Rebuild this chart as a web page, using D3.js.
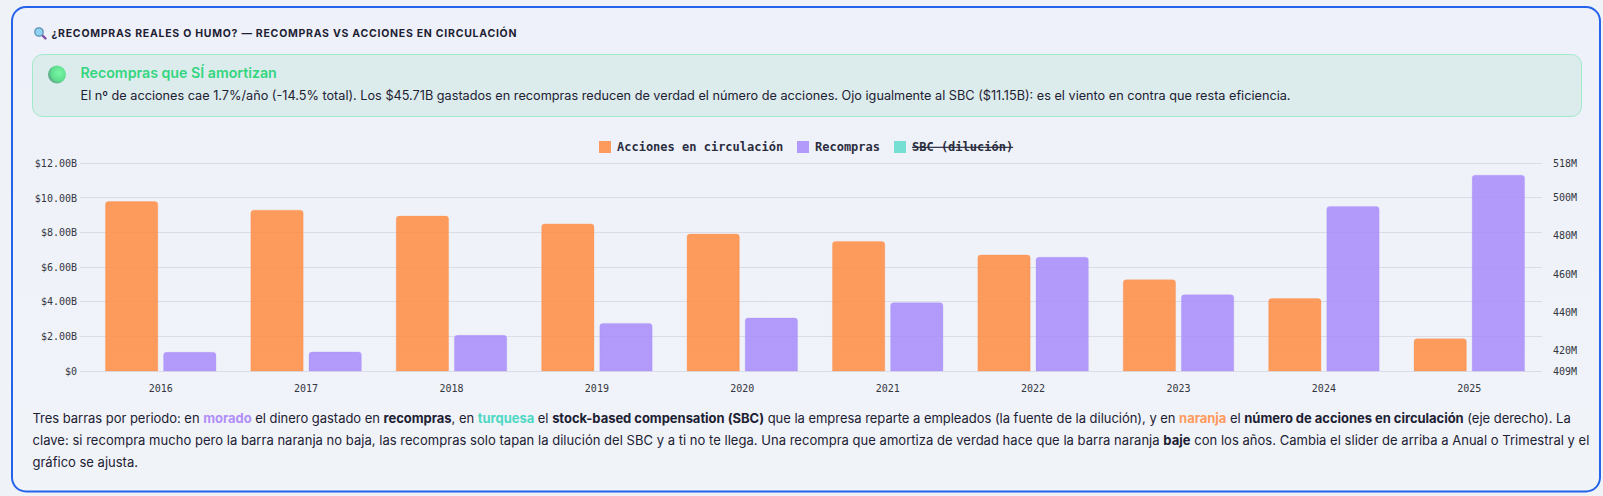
<!DOCTYPE html>
<html>
<head>
<meta charset="utf-8">
<script src="https://cdn.jsdelivr.net/npm/d3@7"></script>
<style>
  html, body { margin: 0; padding: 0; background: #eff2f7; overflow: hidden; }
  svg { display: block; }
  text { font-family: Inter, "Noto Sans", sans-serif; }
  .mono, .mono text { font-family: "DejaVu Sans Mono", monospace; }
  .axis text { font-size: 10px; fill: #33363f; font-family: "DejaVu Sans Mono", monospace; }
  .axis path, .axis line { display: none; }
</style>
</head>
<body>
<div id="chart"></div>
<script>
const w = 1603,
      h = 496;

const years = ['2016', '2017', '2018', '2019', '2020', '2021', '2022', '2023', '2024', '2025'];
// millones de acciones, eje derecho
const shares = [497.9, 493.4, 490.3, 486.2, 480.9, 477.0, 469.9, 456.9, 447.0, 425.9];
// miles de millones de dolares, eje izquierdo
const buybacks = [1.08, 1.10, 2.06, 2.75, 3.06, 3.95, 6.57, 4.41, 9.51, 11.31];

const leftTicks = [0, 2, 4, 6, 8, 10, 12];
const rightTicks = [409, 420, 440, 460, 480, 500, 518];

const orange = '#ff8c42',
      purple = '#a78bfa',
      teal = '#5fdccd',
      ink = '#1d2133';

const legendItems = [
  { label: 'Acciones en circulación', color: orange, x: 599, hidden: false },
  { label: 'Recompras', color: purple, x: 797, hidden: false },
  { label: 'SBC (dilución)', color: teal, x: 894, hidden: true }
];

const noteLines = [
  [['Tres barras por periodo: en '], ['morado', 'b', '#b08ff9'], [' el dinero gastado en '], ['recompras', 'b'], [', en '], ['turquesa', 'b', '#4fd8c4'], [' el '], ['stock-based compensation (SBC)', 'b'], [' que la empresa reparte a empleados (la fuente de la dilución), y en '], ['naranja', 'b', '#ff9a5c'], [' el '], ['número de acciones en circulación', 'b'], [' (eje derecho). La']],
  [['clave: si recompra mucho pero la barra naranja no baja, las recompras solo tapan la dilución del SBC y a ti no te llega. Una recompra que amortiza de verdad hace que la barra naranja '], ['baje', 'b'], [' con los años. Cambia el slider de arriba a Anual o Trimestral y el']],
  [['gráfico se ajusta.']]
];
const noteSpacing = [-0.033, 0.028, 0];

const svg = d3.select('#chart')
  .append('svg')
  .attr('width', w)
  .attr('height', h);

const defs = svg.append('defs');

const cardGrad = defs.append('linearGradient')
  .attr('id', 'cardGrad')
  .attr('x1', 0).attr('y1', 0).attr('x2', 0).attr('y2', 1);
cardGrad.append('stop').attr('offset', '0%').attr('stop-color', '#eff1fa');
cardGrad.append('stop').attr('offset', '100%').attr('stop-color', '#f0f3f8');

const ballGrad = defs.append('radialGradient')
  .attr('id', 'ballGrad')
  .attr('cx', '62%').attr('cy', '42%').attr('r', '65%');
ballGrad.append('stop').attr('offset', '0%').attr('stop-color', '#79f5a6');
ballGrad.append('stop').attr('offset', '65%').attr('stop-color', '#5fe08f');
ballGrad.append('stop').attr('offset', '100%').attr('stop-color', '#5d9a86');

// card
svg.append('rect')
  .attr('x', 12).attr('y', 7)
  .attr('width', 1588).attr('height', 484.5)
  .attr('rx', 14)
  .attr('fill', 'url(#cardGrad)')
  .attr('stroke', '#2563eb')
  .attr('stroke-width', 2);

// magnifier icon
const icon = svg.append('g').attr('transform', 'translate(39, 32)');
icon.append('line')
  .attr('x1', 3).attr('y1', 3).attr('x2', 6.5).attr('y2', 6.5)
  .attr('stroke', '#7a4fa3').attr('stroke-width', 2.4).attr('stroke-linecap', 'round');
icon.append('circle')
  .attr('r', 4.2)
  .attr('fill', '#8fd3f0').attr('stroke', '#5b8fb5').attr('stroke-width', 1.3);

svg.append('text')
  .attr('x', 51.5).attr('y', 37)
  .attr('font-size', 10.5)
  .attr('font-weight', 700)
  .attr('letter-spacing', 0.74)
  .attr('fill', ink)
  .text('¿RECOMPRAS REALES O HUMO? — RECOMPRAS VS ACCIONES EN CIRCULACIÓN');

// callout
svg.append('rect')
  .attr('x', 32.5).attr('y', 54.5)
  .attr('width', 1549).attr('height', 62)
  .attr('rx', 10)
  .attr('fill', '#dcebec')
  .attr('stroke', '#a0e9c9');

svg.append('circle')
  .attr('cx', 57).attr('cy', 74.5).attr('r', 9)
  .attr('fill', 'url(#ballGrad)');

svg.append('text')
  .attr('x', 80.5).attr('y', 77.5)
  .attr('font-size', 14.2)
  .attr('font-weight', 600)
  .attr('fill', '#33d67f')
  .text('Recompras que SÍ amortizan');

svg.append('text')
  .attr('x', 80.5).attr('y', 100)
  .attr('font-size', 12.7)
  .attr('fill', ink)
  .text('El nº de acciones cae 1.7%/año (-14.5% total). Los $45.71B gastados en recompras reducen de verdad el número de acciones. Ojo igualmente al SBC ($11.15B): es el viento en contra que resta eficiencia.');

// scales
const x0 = d3.scaleBand().domain(years).range([88, 1542]);
const groupW = x0.bandwidth() * 0.8;
const x1 = d3.scaleBand().domain(['shares', 'buybacks']).range([0, groupW]);
const barW = x1.bandwidth() * 0.9;

const yLeft = d3.scaleLinear().domain([0, 12]).range([371, 163.3]);
const yRight = d3.scaleLinear().domain([409, 518]).range([371, 163.3]);

// grid
svg.append('g')
  .selectAll('line')
  .data(leftTicks)
  .enter()
  .append('line')
  .attr('x1', 80)
  .attr('x2', 1542)
  .attr('y1', d => yLeft(d))
  .attr('y2', d => yLeft(d))
  .attr('stroke', '#dadde8')
  .attr('shape-rendering', 'crispEdges');

// axes
svg.append('g')
  .attr('class', 'axis')
  .attr('transform', 'translate(77, 0)')
  .call(d3.axisLeft(yLeft).tickValues(leftTicks).tickSize(0).tickPadding(0)
    .tickFormat(d => d === 0 ? '$0' : '$' + d.toFixed(2) + 'B'));

svg.append('g')
  .attr('class', 'axis')
  .attr('transform', 'translate(1553, 0)')
  .call(d3.axisRight(yRight).tickValues(rightTicks).tickSize(0).tickPadding(0)
    .tickFormat(d => d + 'M'));

svg.append('g')
  .attr('class', 'axis')
  .attr('transform', 'translate(0, 385)')
  .call(d3.axisBottom(x0).tickSize(0).tickPadding(0));

// rounded on top only
function barPath(x, y, bw, base) {
  const r = 3;
  return `M${x},${base}V${y + r}Q${x},${y} ${x + r},${y}H${x + bw - r}Q${x + bw},${y} ${x + bw},${y + r}V${base}Z`;
}

function drawBars(data, key, scale, color) {
  svg.append('g')
    .selectAll('path')
    .data(data)
    .enter()
    .append('path')
    .attr('d', (d, i) => {
      const left = x0(years[i]) + (x0.bandwidth() - groupW) / 2 + x1(key) + (x1.bandwidth() - barW) / 2;
      return barPath(left, scale(d), barW, 371);
    })
    .attr('fill', color)
    .attr('fill-opacity', 0.85)
    .attr('stroke', color)
    .attr('stroke-opacity', 0.25)
    .attr('stroke-width', 1);
}

drawBars(shares, 'shares', yRight, orange);
drawBars(buybacks, 'buybacks', yLeft, purple);

// legend
const legend = svg.append('g')
  .attr('class', 'mono')
  .selectAll('g')
  .data(legendItems)
  .enter()
  .append('g')
  .attr('transform', d => `translate(${d.x}, 141)`);

legend.append('rect')
  .attr('width', 12)
  .attr('height', 12)
  .attr('fill', d => d.color)
  .attr('fill-opacity', 0.85);

legend.append('text')
  .attr('x', 18)
  .attr('y', 10)
  .attr('font-size', 12)
  .attr('font-weight', 700)
  .attr('fill', '#2a2e40')
  .style('text-decoration', d => d.hidden ? 'line-through' : 'none')
  .text(d => d.label);

// note below the chart
const note = svg.append('text')
  .attr('font-size', 13)
  .attr('fill', ink);

noteLines.forEach((runs, i) => {
  const line = note.append('tspan')
    .attr('x', 32.5)
    .attr('y', 422.5 + i * 22)
    .attr('letter-spacing', noteSpacing[i]);
  runs.forEach(r => {
    const t = line.append('tspan').text(r[0]);
    if (r[1]) t.attr('font-weight', 700);
    if (r[2]) t.attr('fill', r[2]);
  });
});
</script>
</body>
</html>
